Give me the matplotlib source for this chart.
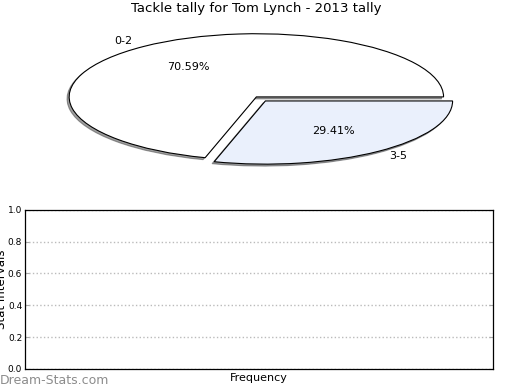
import matplotlib
matplotlib.use('Agg')
import matplotlib.pyplot as plt

labels = ['0-2', '3-5']
values = [70.59, 29.41]
colors = ['white', '#eaf0fc']
yticks = [0.0, 0.2, 0.4, 0.6, 0.8, 1.0]

fig = plt.figure(figsize=(5.2, 3.9), dpi=100)

# pie on top, stretched like the original
ax1 = fig.add_axes([0.043, 0.549, 0.9, 0.405])
wedges, texts, autotexts = ax1.pie(values, labels=labels, colors=colors,
                                   explode=[0, 0.08], autopct='%1.2f%%',
                                   shadow={'ox': -0.008, 'oy': -0.022, 'shade': 0.75},
                                   wedgeprops={'edgecolor': 'black', 'linewidth': 0.8},
                                   textprops={'fontsize': 8})
ax1.set_aspect('auto')
ax1.set_xlim(-1.25, 1.25)
ax1.set_ylim(-1.25, 1.25)
ax1.set_title('Tackle tally for Tom Lynch - 2013 tally', fontsize=9.5, pad=4)

# empty frequency axes underneath
ax2 = fig.add_axes([0.048, 0.054, 0.9, 0.408])
ax2.set_ylim(0, 1)
ax2.set_yticks(yticks)
ax2.set_yticklabels(['%.1f' % t for t in yticks], fontsize=6.5)
ax2.set_xticks([])
ax2.tick_params(axis='y', direction='in', length=3, color='#aaaaaa',
                left=True, right=True, pad=2)
ax2.grid(axis='y', linestyle=':', color='#bbbbbb', linewidth=1)
ax2.set_xlabel('Frequency', fontsize=8, labelpad=3)
ax2.set_ylabel('Stat Intervals', fontsize=8.5)
ax2.yaxis.set_label_coords(-0.036, 0.5)
for s in ax2.spines.values():
    s.set_linewidth(0.9)

fig.text(0.0, 0.008, 'Dream-Stats.com', fontsize=9, color='#8c8c8c',
         ha='left', va='bottom')

fig.savefig('out.png', dpi=100)
